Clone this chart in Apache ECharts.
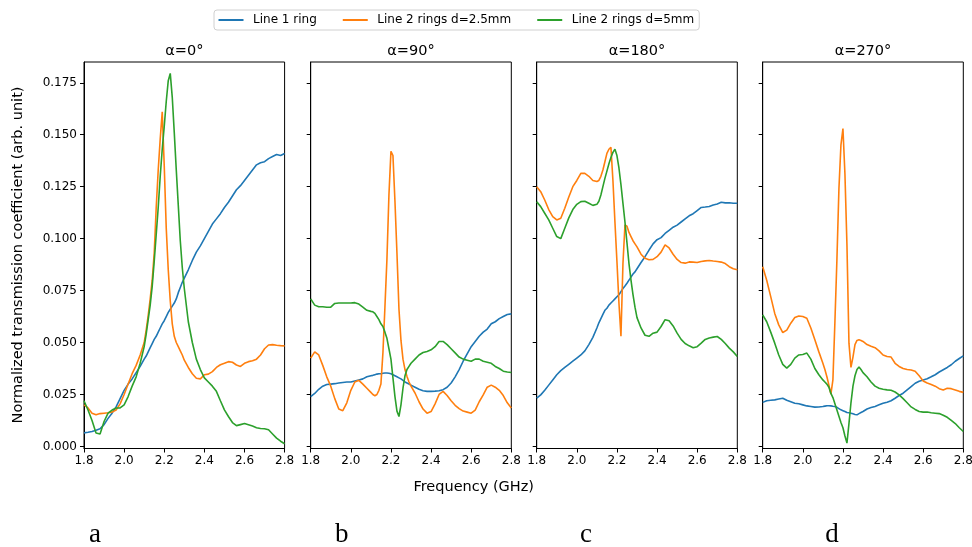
<!DOCTYPE html>
<html><head><meta charset="utf-8">
<script src="https://cdn.jsdelivr.net/npm/echarts@6/dist/echarts.min.js"></script>
<style>html,body{margin:0;padding:0;background:#fff}#c{width:972px;height:547px}</style>
</head><body><div id="c"></div>
<script>
// Frequency grid (GHz)
const freq = [1.80,1.82,1.84,1.86,1.88,1.90,1.92,1.94,1.96,1.98,2.00,2.02,2.04,2.06,2.08,2.10,
  2.11,2.12,2.13,2.14,2.15,2.16,2.17,2.18,2.19,2.20,2.21,2.22,2.23,2.24,2.25,2.26,2.27,2.28,2.29,2.30,
  2.32,2.34,2.36,2.38,2.40,2.42,2.44,2.46,2.48,2.50,2.52,2.54,2.56,2.58,2.60,2.62,2.64,2.66,2.68,2.70,2.72,2.74,2.76,2.78,2.80];

// Panel a (alpha = 0)
const blueA = [.0065,.0068,.0072,.0078,.0085,.0105,.0135,.0160,.0190,.0230,.0270,.0300,.0325,.0355,.0385,.0420,
  .0435,.0455,.0475,.0495,.0515,.0530,.0550,.0570,.0590,.0605,.0625,.0645,.0660,.0675,.0690,.0710,.0740,.0765,.0790,.0810,
  .0850,.0895,.0935,.0965,.1000,.1035,.1070,.1095,.1120,.1150,.1175,.1205,.1235,.1255,.1280,.1305,.1330,.1355,.1365,.1370,.1385,.1395,.1405,.1400,.1410];
const orangeA = [.0200,.0185,.0160,.0152,.0158,.0160,.0162,.0165,.0175,.0205,.0250,.0300,.0350,.0390,.0440,.0500,
  .0560,.0630,.0710,.0800,.0930,.1150,.1330,.1480,.1610,.1350,.1050,.0850,.0700,.0590,.0530,.0500,.0480,.0460,.0440,.0415,
  .0380,.0350,.0328,.0325,.0345,.0348,.0360,.0380,.0393,.0400,.0408,.0405,.0392,.0385,.0400,.0408,.0412,.0420,.0440,.0470,.0488,.0490,.0487,.0485,.0484];
const greenA = [.0220,.0175,.0125,.0065,.0060,.0120,.0160,.0175,.0185,.0185,.0200,.0240,.0290,.0335,.0400,.0480,
  .0540,.0610,.0680,.0770,.0890,.1020,.1150,.1300,.1430,.1540,.1660,.1760,.1795,.1680,.1510,.1330,.1160,.0990,.0860,.0760,
  .0600,.0500,.0420,.0370,.0330,.0310,.0290,.0265,.0220,.0176,.0144,.0115,.0100,.0105,.0110,.0104,.0098,.0090,.0086,.0085,.0080,.0060,.0040,.0025,.0013];

// Panel b (alpha = 90)
const blueB = [.0240,.0255,.0275,.0290,.0298,.0300,.0302,.0305,.0308,.0310,.0310,.0315,.0320,.0325,.0335,.0340,
  .0342,.0345,.0348,.0350,.0350,.0352,.0353,.0353,.0352,.0350,.0345,.0340,.0335,.0330,.0325,.0318,.0310,.0305,.0300,.0295,
  .0285,.0275,.0268,.0265,.0265,.0266,.0268,.0273,.0285,.0305,.0335,.0370,.0410,.0445,.0480,.0505,.0530,.0550,.0565,.0590,.0600,.0615,.0625,.0635,.0638];
const orangeB = [.0425,.0455,.0440,.0390,.0335,.0290,.0230,.0180,.0172,.0210,.0270,.0310,.0318,.0300,.0280,.0260,
  .0250,.0244,.0250,.0270,.0300,.0450,.0670,.0900,.1210,.1420,.1400,.1180,.0930,.0660,.0510,.0420,.0370,.0337,.0310,.0290,
  .0257,.0215,.0180,.0160,.0168,.0205,.0250,.0265,.0245,.0220,.0198,.0182,.0170,.0165,.0160,.0175,.0215,.0248,.0285,.0295,.0285,.0270,.0245,.0210,.0185];
const greenB = [.0710,.0680,.0672,.0672,.0670,.0670,.0688,.0690,.0690,.0690,.0690,.0692,.0685,.0670,.0655,.0650,
  .0648,.0640,.0625,.0610,.0590,.0577,.0550,.0520,.0470,.0420,.0330,.0240,.0170,.0144,.0200,.0280,.0340,.0370,.0385,.0400,
  .0420,.0440,.0452,.0457,.0465,.0480,.0505,.0505,.0490,.0470,.0450,.0430,.0420,.0415,.0410,.0420,.0420,.0410,.0405,.0400,.0385,.0375,.0362,.0358,.0356];

// Panel c (alpha = 180)
const blueC = [.0232,.0248,.0270,.0295,.0320,.0345,.0365,.0380,.0395,.0410,.0425,.0440,.0460,.0490,.0525,.0570,
  .0595,.0615,.0635,.0655,.0665,.0680,.0690,.0700,.0710,.0720,.0730,.0745,.0760,.0772,.0785,.0800,.0815,.0830,.0840,.0855,
  .0885,.0913,.0945,.0975,.0995,.1005,.1025,.1040,.1055,.1065,.1080,.1095,.1110,.1120,.1135,.1150,.1152,.1155,.1162,.1167,.1175,.1172,.1173,.1170,.1170];
const orangeC = [.1250,.1226,.1186,.1140,.1106,.1090,.1098,.1146,.1200,.1250,.1280,.1314,.1314,.1300,.1280,.1275,
  .1280,.1300,.1330,.1370,.1410,.1430,.1440,.1280,.1080,.0890,.0690,.0530,.0880,.1066,.1060,.1030,.1010,.0990,.0975,.0960,
  .0925,.0905,.0898,.0900,.0913,.0935,.0970,.0955,.0925,.0900,.0885,.0882,.0888,.0887,.0885,.0890,.0893,.0895,.0892,.0890,.0887,.0880,.0865,.0855,.0850];
const greenC = [.1178,.1154,.1122,.1090,.1050,.1010,.1000,.1050,.1100,.1140,.1165,.1178,.1180,.1170,.1160,.1165,
  .1180,.1210,.1250,.1290,.1325,.1360,.1390,.1415,.1430,.1400,.1340,.1260,.1170,.1080,.0980,.0880,.0800,.0730,.0670,.0620,
  .0570,.0535,.0530,.0545,.0550,.0577,.0610,.0605,.0580,.0545,.0515,.0495,.0484,.0475,.0480,.0497,.0515,.0522,.0526,.0529,.0515,.0495,.0473,.0455,.0433];

// Panel d (alpha = 270)
const blueD = [.0212,.0220,.0222,.0224,.0228,.0232,.0222,.0215,.0208,.0205,.0200,.0195,.0192,.0189,.0190,.0192,
  .0194,.0196,.0196,.0195,.0193,.0192,.0188,.0182,.0176,.0172,.0168,.0163,.0162,.0160,.0157,.0154,.0152,.0158,.0163,.0168,
  .0180,.0187,.0192,.0200,.0208,.0213,.0220,.0232,.0245,.0256,.0272,.0288,.0304,.0314,.0320,.0326,.0335,.0345,.0358,.0369,.0380,.0393,.0410,.0423,.0436];
const orangeD = [.0865,.0800,.0721,.0640,.0585,.0548,.0560,.0593,.0620,.0628,.0625,.0617,.0570,.0513,.0455,.0400,
  .0370,.0335,.0295,.0252,.0320,.0600,.0900,.1240,.1450,.1530,.1310,.0970,.0497,.0380,.0430,.0490,.0510,.0513,.0510,.0505,
  .0490,.0482,.0475,.0460,.0440,.0433,.0430,.0400,.0385,.0375,.0370,.0368,.0362,.0340,.0315,.0305,.0298,.0290,.0278,.0272,.0280,.0278,.0272,.0265,.0260];
const greenD = [.0633,.0600,.0550,.0497,.0440,.0395,.0377,.0395,.0425,.0440,.0442,.0449,.0420,.0375,.0345,.0320,
  .0310,.0300,.0285,.0255,.0235,.0205,.0175,.0145,.0115,.0090,.0050,.0016,.0110,.0210,.0290,.0340,.0370,.0382,.0370,.0355,
  .0335,.0310,.0290,.0280,.0275,.0272,.0270,.0262,.0248,.0230,.0210,.0190,.0178,.0168,.0165,.0166,.0162,.0160,.0158,.0150,.0140,.0125,.0110,.0090,.0072];

const seriesNames = ['Line 1 ring','Line 2 rings d=2.5mm','Line 2 rings d=5mm'];
const panelTitles = ['α=0°','α=90°','α=180°','α=270°'];
const panelLetters = ['a','b','c','d'];
const yTicks = [0,0.025,0.05,0.075,0.1,0.125,0.15,0.175];
const xTicks = [1.8,2.0,2.2,2.4,2.6,2.8];
const xLabelText = 'Frequency (GHz)';
const yLabelText = 'Normalized transmission coefficient (arb. unit)';

const panels = [[blueA,orangeA,greenA],[blueB,orangeB,greenB],[blueC,orangeC,greenC],[blueD,orangeD,greenD]];
const colors = ['#1f77b4','#ff7f0e','#2ca02c'];
const lefts = [84,310.7,536.7,762.7];
const W = 200.6, TOP = 62, H = 386.5;
const FONT = 'DejaVu Sans';

const grid = lefts.map(l => ({left:l, top:TOP, width:W, height:H, show:true, borderColor:'#000', borderWidth:1,
  backgroundColor:'transparent', containLabel:false, outerBoundsMode:'none'}));
const xAxis = lefts.map((l,i) => ({
  type:'value', gridIndex:i, min:1.8, max:2.8,
  axisLine:{show:true, onZero:false, lineStyle:{color:'#000', width:1}},
  axisTick:{show:true, customValues:xTicks, length:4, lineStyle:{color:'#000', width:1}},
  axisLabel:{show:true, customValues:xTicks, formatter:v=>Number(v).toFixed(1), fontSize:12, fontFamily:FONT, color:'#000', margin:6},
  splitLine:{show:false}
}));
const yAxis = lefts.map((l,i) => ({
  type:'value', gridIndex:i, min:-0.001, max:0.185,
  axisLine:{show:true, onZero:false, lineStyle:{color:'#000', width:1}},
  axisTick:{show:true, customValues:yTicks, length:4, lineStyle:{color:'#000', width:1}},
  axisLabel:{show:i===0, customValues:yTicks, formatter:v=>Number(v).toFixed(3), fontSize:12, fontFamily:FONT, color:'#000', margin:7},
  splitLine:{show:false}
}));
const series = [];
panels.forEach((p,pi) => {
  p.forEach((vals,si) => {
    series.push({
      type:'line', name:seriesNames[si], xAxisIndex:pi, yAxisIndex:pi,
      data: freq.map((f,k) => [f, vals[k]]),
      showSymbol:false, symbol:'none', silent:true,
      lineStyle:{color:colors[si], width:1.6},
      itemStyle:{color:colors[si]}
    });
  });
});

const graphic = [];
graphic.push({type:'text', x:18, y:255, rotation:Math.PI/2,
  style:{text:yLabelText, fontSize:14.5, fontFamily:FONT, fill:'#000', align:'center', verticalAlign:'middle', textAlign:'center', textVerticalAlign:'middle'}});
graphic.push({type:'text', x:473.7, y:487,
  style:{text:xLabelText, fontSize:14.5, fontFamily:FONT, fill:'#000', align:'center', verticalAlign:'middle', textAlign:'center', textVerticalAlign:'middle'}});
lefts.forEach((l,i) => {
  graphic.push({type:'text', x:l + W/2, y:51.5,
    style:{text:panelTitles[i], fontSize:14.5, fontFamily:FONT, fill:'#000', align:'center', verticalAlign:'middle', textAlign:'center', textVerticalAlign:'middle'}});
});
const letterX = [95, 341.7, 586, 832];
panelLetters.forEach((t,i) => {
  graphic.push({type:'text', x:letterX[i], y:535,
    style:{text:t, fontSize:27, fontFamily:'Liberation Serif', fill:'#000', align:'center', verticalAlign:'middle', textAlign:'center', textVerticalAlign:'middle'}});
});

const chart = echarts.init(document.getElementById('c'), null, {renderer:'canvas'});
chart.setOption({
  animation:false,
  backgroundColor:'#fff',
  legend:{
    data:seriesNames, left:214, top:10, padding:[4,5,4,4.5], itemGap:26, itemWidth:25, itemHeight:2,
    icon:'rect', borderColor:'#d0d0d0', borderWidth:1, borderRadius:3, backgroundColor:'#fff',
    textStyle:{fontSize:12, fontFamily:FONT, color:'#000', padding:[0,0,0,4.5]}
  },
  grid, xAxis, yAxis, series, graphic
});
</script></body></html>
